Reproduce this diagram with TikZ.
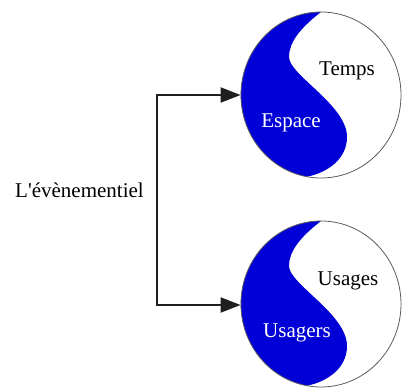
\documentclass[tikz,border=0pt]{standalone}
\usepackage{fontspec}
\setmainfont{Liberation Serif}[Ligatures=TeXOff]
\usetikzlibrary{arrows.meta,shapes.geometric}
\definecolor{swirlblue}{RGB}{0,0,215}
\definecolor{rim}{RGB}{90,90,90}
\definecolor{ink}{RGB}{30,30,30}
\tikzset{
  x=1pt, y=1pt,
  disc/.style={ellipse, draw=rim, line width=0.8pt, minimum width=160pt, minimum height=166pt, inner sep=0pt},
  link/.style={draw=ink, line width=2pt, {Triangle[length=20pt,width=15pt]}-{Triangle[length=20pt,width=15pt]}},
  lbl/.style={font=\fontsize{21}{24}\selectfont, anchor=base, inner sep=0pt},
  swirl/.style={fill=swirlblue, draw=none}
}
% blue half of a disc, drawn relative to the disc centre
\newcommand{\swirlhalf}[1]{%
  \begin{scope}[shift={(#1)}]
    \path[swirl] (0,83) .. controls (-22,66) and (-32,52) .. (-32,38)
      .. controls (-32,20) and (26,-10) .. (26,-42)
      .. controls (26,-65) and (5,-78) .. (-14,-81.7)
      arc[start angle=260, end angle=90, x radius=80, y radius=83] -- cycle;
  \end{scope}}
\begin{document}
\begin{tikzpicture}
  \useasboundingbox (0,0) rectangle (402,389);
  % two discs
  \swirlhalf{321,294}
  \swirlhalf{321,85}
  \node[disc] (top) at (321,294) {};
  \node[disc] (bot) at (321,85) {};
  % labels inside the discs
  \node[lbl] (temps) at (347,313) {Temps};
  \node[lbl, text=white] (espace) at (291,261) {Espace};
  \node[lbl] (usages) at (348,104) {Usages};
  \node[lbl, text=white] (usagers) at (297,52) {Usagers};
  % left label and its bracket
  \node[lbl] (event) at (79.5,192) {L'évènementiel};
  \coordinate (j1) at (157,294);
  \coordinate (j2) at (157,84);
  \draw[link] (top.west) -- (j1) -- (j2) -- (bot.west |- j2);
\end{tikzpicture}
\end{document}
